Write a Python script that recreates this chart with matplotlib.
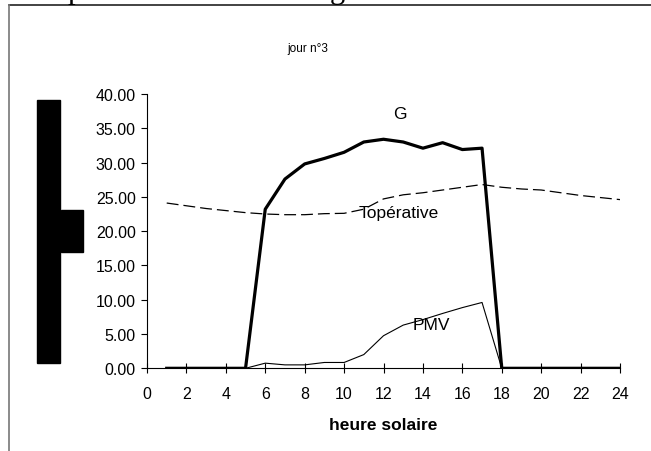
import matplotlib.pyplot as plt
from matplotlib.lines import Line2D
from matplotlib.patches import Rectangle

plt.rcParams['font.family'] = ['Liberation Sans', 'DejaVu Sans']

hours = list(range(1, 25))
G = [0, 0, 0, 0, 0, 23.2, 27.6, 29.8, 30.6, 31.5, 33.0, 33.4, 33.0, 32.1,
     32.9, 31.9, 32.1, 0, 0, 0, 0, 0, 0, 0]
T_op = [24.1, 23.7, 23.3, 23.0, 22.7, 22.5, 22.4, 22.4, 22.55, 22.6, 23.2, 24.7,
        25.3, 25.6, 26.0, 26.4, 26.8, 26.4, 26.15, 26.0, 25.6, 25.2, 24.9, 24.6]
PMV = [0, 0, 0, 0, 0, 0.75, 0.5, 0.5, 0.85, 0.85, 2.0, 4.75, 6.3, 7.1,
       8.0, 8.85, 9.6, 0, 0, 0, 0, 0, 0, 0]

fig = plt.figure(figsize=(6.51, 4.52), dpi=100)

# page frame and bits of the document around the chart
fig.add_artist(Line2D([9 / 651, 1], [1 - 6 / 452, 1 - 6 / 452], transform=fig.transFigure,
                      color='#222222', lw=1.2))
fig.add_artist(Line2D([9 / 651, 9 / 651], [0, 1 - 6 / 452], transform=fig.transFigure,
                      color='#777777', lw=1.2))
fig.text(68 / 651, 1 + 2 / 452, 'p', family='Liberation Serif', fontsize=22, va='baseline')
fig.text(330 / 651, 1 + 2 / 452, 'g', family='Liberation Serif', fontsize=22, va='baseline')
fig.add_artist(Rectangle((37 / 651, 1 - 364 / 452), 23 / 651, 263 / 452,
                         transform=fig.transFigure, color='black'))
fig.add_artist(Rectangle((61 / 651, 1 - 253 / 452), 22 / 651, 42 / 452,
                         transform=fig.transFigure, color='black'))

ax = fig.add_axes([147 / 651, 1 - 369.3 / 452, 473 / 651, 274.3 / 452])
ax.plot(hours, G, color='black', lw=2.3)
ax.plot(hours, T_op, color='black', lw=0.9, dashes=(9.5, 4))
ax.plot(hours, PMV, color='black', lw=0.8)

ax.text(12.84, 37.1, 'G', fontsize=12.5, ha='center', va='center')
ax.text(12.75, 22.75, 'Topérative', fontsize=12.5, ha='center', va='center')
ax.text(14.45, 6.4, 'PMV', fontsize=12.5, ha='center', va='center')

ax.set_xlim(0, 24)
ax.set_ylim(0, 40)
ax.set_xticks(range(0, 25, 2))
ax.set_yticks(range(0, 41, 5))
ax.set_yticklabels(['%.2f' % v for v in range(0, 41, 5)])
ax.tick_params(axis='x', direction='inout', length=7, width=0.8, labelsize=11.5, pad=9)
ax.tick_params(axis='y', direction='out', length=4, width=0.8, labelsize=11.5, pad=4)
ax.spines['top'].set_visible(False)
ax.spines['right'].set_visible(False)
ax.spines['left'].set_linewidth(0.8)
ax.spines['bottom'].set_linewidth(0.8)
ax.set_xlabel('heure solaire', fontsize=12.5, fontweight='bold', labelpad=12)

fig.text(308 / 651, 1 - 49 / 452, 'jour n°3', fontsize=8.5, ha='center', va='center',
         family=['Liberation Sans Narrow', 'Liberation Sans'])

fig.savefig('out.png', dpi=100)
